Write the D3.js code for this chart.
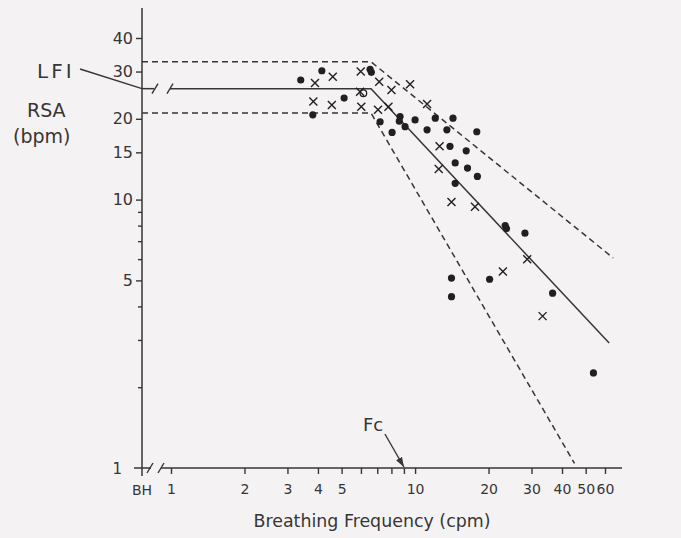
<!DOCTYPE html>
<html>
<head>
<meta charset="utf-8">
<script src="https://cdn.jsdelivr.net/npm/d3@7"></script>
<style>
  body { margin: 0; background: #f5f2f4; }
  svg { display: block; }
  text { font-family: "DejaVu Sans", sans-serif; fill: #363636; }
</style>
</head>
<body>
<svg></svg>
<script>
// breathing frequency (cpm) and RSA (bpm) for filled dots
const dotFreq = [3.40, 4.15, 5.12, 3.81, 6.54, 6.62, 7.19, 8.05, 8.68, 8.62, 9.10, 10.0, 11.2, 12.1, 13.5, 14.3,
                 17.9, 13.9, 16.2, 14.6, 16.4, 18.0, 14.6, 23.4, 23.7, 28.2, 20.2, 14.1, 14.1, 36.6, 53.8];
const dotRsa  = [27.9, 30.2, 23.9, 20.7, 30.6, 29.8, 19.5, 17.8, 20.4, 19.6, 18.7, 19.8, 18.2, 20.1, 18.2, 20.1,
                 17.9, 15.8, 15.2, 13.7, 13.1, 12.2, 11.5, 8.0, 7.8, 7.5, 5.05, 5.1, 4.35, 4.48, 2.26];

// crosses
const crossFreq = [3.89, 4.60, 5.99, 3.83, 4.56, 5.95, 6.02, 7.13, 8.0, 9.54, 7.05, 7.78, 11.2, 12.6, 12.5, 14.1, 17.6, 28.8, 22.9, 33.3];
const crossRsa  = [27.2, 28.7, 30.0, 23.2, 22.5, 25.2, 22.2, 27.5, 25.6, 26.9, 21.6, 22.2, 22.7, 15.8, 13.0, 9.8, 9.4, 6.0, 5.4, 3.68];

// open circle
const openFreq = [6.14];
const openRsa  = [24.9];

// plateau + slope lines: upper dashed, LFI (solid), lower dashed
const lineNames  = ["upper", "lfi", "lower"];
const plateauRsa = [32.6, 25.9, 21.0];
const endFreq    = [64.8, 62.4, 45.0];
const endRsa     = [6.06, 2.92, 1.04];
const kneeFreq   = 6.6;
const fcFreq     = 9.0;

// axis ticks
const xTicks  = [1, 2, 3, 4, 5, 6, 7, 8, 9, 10, 20, 30, 40, 50, 60];
const xLabels = [1, 2, 3, 4, 5, 10, 20, 30, 40, 50, 60];
const yTicks  = [2, 3, 4, 5, 6, 7, 8, 9, 10, 15, 20, 30, 40];
const yLabels = [5, 10, 15, 20, 30, 40];

const width = 681, height = 538;
const ink = "#363636";

let svg = d3.select("svg")
    .attr("width", width)
    .attr("height", height);

let x = d3.scaleLog().domain([1, 60]).range([171, 605]);
let y = d3.scaleLog().domain([1, 40]).range([468, 38]);

const axisX = 142, axisY = y(1);

function slash(g, cx, cy) {
    g.append("line")
        .attr("x1", cx - 3).attr("y1", cy + 5)
        .attr("x2", cx + 3).attr("y2", cy - 5)
        .attr("stroke", ink).attr("stroke-width", 1.4);
}

// y axis
svg.append("line")
    .attr("x1", axisX).attr("x2", axisX)
    .attr("y1", 8).attr("y2", axisY + 8)
    .attr("stroke", ink).attr("stroke-width", 1.5);

let yAxis = svg.append("g")
    .attr("transform", "translate(" + axisX + ",0)")
    .call(d3.axisLeft(y)
        .tickValues(yTicks)
        .tickFormat(d => yLabels.includes(d) ? d : "")
        .tickSizeOuter(0)
        .tickPadding(3));
yAxis.select(".domain").remove();
yAxis.selectAll(".tick line")
    .attr("x2", d => yLabels.includes(d) ? -6 : -4)
    .attr("stroke", ink).attr("stroke-width", 1.4);
yAxis.selectAll(".tick text")
    .attr("x", -9)
    .style("font-size", "16px")
    .style("font-family", "DejaVu Sans")
    .attr("fill", ink);

svg.append("text")
    .attr("x", 122).attr("y", axisY + 6)
    .attr("text-anchor", "end")
    .style("font-size", "15px")
    .text("1");

// x axis, with break after BH
svg.append("line")
    .attr("x1", 134).attr("x2", 151)
    .attr("y1", axisY).attr("y2", axisY)
    .attr("stroke", ink).attr("stroke-width", 1.5);
svg.append("line")
    .attr("x1", 161).attr("x2", 622)
    .attr("y1", axisY).attr("y2", axisY)
    .attr("stroke", ink).attr("stroke-width", 1.5);
slash(svg, 150, axisY);
slash(svg, 161, axisY);

let xAxis = svg.append("g")
    .attr("transform", "translate(0," + axisY + ")")
    .call(d3.axisBottom(x)
        .tickValues(xTicks)
        .tickFormat(d => xLabels.includes(d) ? d : "")
        .tickSizeOuter(0)
        .tickSize(6)
        .tickPadding(10));
xAxis.select(".domain").remove();
xAxis.selectAll(".tick line")
    .attr("stroke", ink).attr("stroke-width", 1.4);
xAxis.selectAll(".tick text")
    .style("font-size", "14px")
    .style("font-family", "DejaVu Sans")
    .attr("fill", ink);

svg.append("text")
    .attr("x", axisX).attr("y", axisY + 27)
    .attr("text-anchor", "middle")
    .style("font-size", "14px")
    .text("BH");

svg.append("text")
    .attr("x", 372).attr("y", 527)
    .attr("text-anchor", "middle")
    .attr("textLength", 237)
    .attr("lengthAdjust", "spacingAndGlyphs")
    .style("font-size", "18px")
    .text("Breathing Frequency (cpm)");

// y labels
svg.append("text").attr("x", 27).attr("y", 117)
    .style("font-size", "19px").text("RSA");
svg.append("text").attr("x", 13).attr("y", 143)
    .style("font-size", "19px").text("(bpm)");
svg.append("text").attr("x", 37).attr("y", 78)
    .style("font-size", "20px").style("letter-spacing", "3px").text("LFI");

// LFI leader
svg.append("line")
    .attr("x1", 80).attr("y1", 69)
    .attr("x2", axisX).attr("y2", y(plateauRsa[1]))
    .attr("stroke", ink).attr("stroke-width", 1.4);

// model lines
let lines = svg.append("g").attr("id", "lines");
lineNames.forEach((name, i) => {
    let startX = name == "lfi" ? 170 : axisX;
    let pts = [[startX, y(plateauRsa[i])],
               [x(kneeFreq), y(plateauRsa[i])],
               [x(endFreq[i]), y(endRsa[i])]];
    lines.append("path")
        .attr("d", d3.line()(pts))
        .attr("fill", "none")
        .attr("stroke", ink)
        .attr("stroke-width", 1.5)
        .attr("stroke-dasharray", name == "lfi" ? null : "6,4");
    if (name == "lfi") {
        lines.append("line")
            .attr("x1", axisX).attr("x2", 154)
            .attr("y1", y(plateauRsa[i])).attr("y2", y(plateauRsa[i]))
            .attr("stroke", ink).attr("stroke-width", 1.5);
        slash(lines, 155, y(plateauRsa[i]));
        slash(lines, 170, y(plateauRsa[i]));
    }
});

// Fc arrow
svg.append("defs").append("marker")
    .attr("id", "arrow")
    .attr("viewBox", "0 0 10 10")
    .attr("refX", 10).attr("refY", 5)
    .attr("markerWidth", 7).attr("markerHeight", 7)
    .attr("orient", "auto")
    .append("path")
    .attr("d", "M0,1.5L10,5L0,8.5Z")
    .attr("fill", ink);

svg.append("line")
    .attr("x1", x(fcFreq) - 19).attr("y1", 434)
    .attr("x2", x(fcFreq)).attr("y2", axisY - 1)
    .attr("stroke", ink).attr("stroke-width", 1.4)
    .attr("marker-end", "url(#arrow)");
svg.append("text")
    .attr("x", x(fcFreq) - 41).attr("y", 431)
    .style("font-size", "18px")
    .text("Fc");

// points
let dots = dotFreq.map((f, i) => ({ f: f, r: dotRsa[i] }));
let crosses = crossFreq.map((f, i) => ({ f: f, r: crossRsa[i] }));
let opens = openFreq.map((f, i) => ({ f: f, r: openRsa[i] }));

svg.append("g").attr("id", "dots")
    .selectAll("circle")
    .data(dots)
    .enter()
    .append("circle")
    .attr("cx", d => x(d.f))
    .attr("cy", d => y(d.r))
    .attr("r", 3.6)
    .attr("fill", "#202020");

svg.append("g").attr("id", "crosses")
    .selectAll("path")
    .data(crosses)
    .enter()
    .append("path")
    .attr("transform", d => "translate(" + x(d.f) + "," + y(d.r) + ")")
    .attr("d", "M-4,-4L4,4M-4,4L4,-4")
    .attr("stroke", "#202020")
    .attr("stroke-width", 1.4);

svg.append("g").attr("id", "opens")
    .selectAll("circle")
    .data(opens)
    .enter()
    .append("circle")
    .attr("cx", d => x(d.f))
    .attr("cy", d => y(d.r))
    .attr("r", 3.3)
    .attr("fill", "none")
    .attr("stroke", "#202020")
    .attr("stroke-width", 1.3);
</script>
</body>
</html>
